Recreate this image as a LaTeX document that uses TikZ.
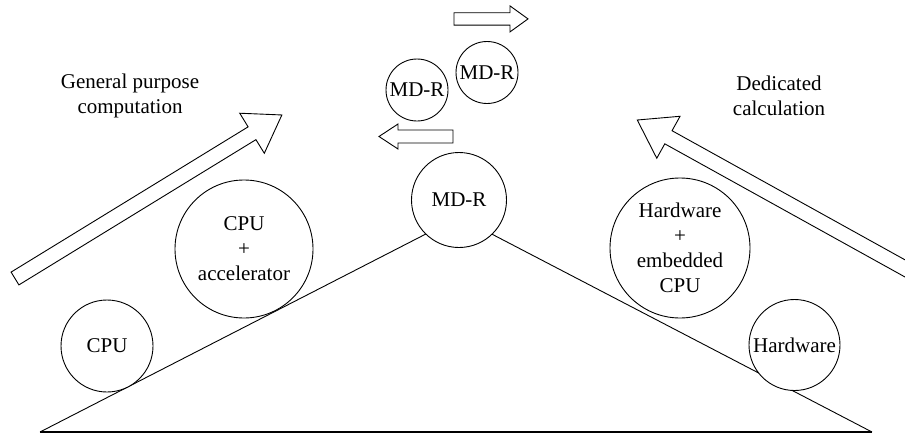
\documentclass[tikz,border=0pt]{standalone}
\usepackage{fontspec}
\setmainfont{Liberation Serif}
\tikzset{
  ink/.style={draw=black, line width=0.9pt},
  ball/.style={ink, circle, fill=white, inner sep=0pt, align=center,
    font=\fontsize{21}{25}\selectfont},
  caption/.style={align=center, font=\fontsize{21}{25}\selectfont},
  % hollow block arrow: length / shaft width / head width / head length,
  % drawn from the middle of its tail along the local x axis
  pics/hollow arrow/.style args={#1/#2/#3/#4}{code={
    \draw[ink, line join=miter]
      (0,-#2/2) -- ({#1-#4},-#2/2) -- ({#1-#4},-#3/2) -- (#1,0)
      -- ({#1-#4},#3/2) -- ({#1-#4},#2/2) -- (0,#2/2) -- cycle;}}
}
\begin{document}
\begin{tikzpicture}[x=1pt,y=-1pt]
  \useasboundingbox (0,0) rectangle (905,434);
  \clip (0,0) rectangle (905,434);

  % the slope
  \coordinate (lb) at (40,432);
  \coordinate (rb) at (872,432);
  \coordinate (apex) at (459,217);
  \draw[ink] (lb) -- (apex) -- (rb);
  \draw[ink, line width=1.4pt] (lb) -- (rb);

  % balls on the slope
  \node[ball, minimum size=95pt] (mdr) at (459,200) {MD-R};
  \node[ball, minimum size=92pt] (cpu) at (107,346) {CPU};
  \node[ball, minimum size=138pt] (acc) at (244,249) {CPU\\+\\accelerator};
  \node[ball, minimum size=140pt] (hwe) at (680,248) {Hardware\\+\\embedded\\CPU};
  \node[ball, minimum size=91pt] (hw) at (794.5,345) {Hardware};

  % balls above the top
  \node[ball, minimum size=62pt] (mdrl) at (417,90) {MD-R};
  \node[ball, minimum size=62pt] (mdrr) at (487,72.5) {MD-R};

  % small arrows
  \pic at (454,18.9) {hollow arrow=74/12.3/26/18};
  \pic[rotate=180] at (453,136.5) {hollow arrow=74/13/25/19};

  % trend arrows
  \pic[rotate=31.5] at (15,278.5) {hollow arrow=313/15/47/35};
  \pic[rotate=151] at (925.9,280) {hollow arrow=330/15/48/35.6};

  % captions
  \node[caption] (gp) at (130,95.5) {General purpose\\computation};
  \node[caption] (dc) at (779,95.5) {Dedicated\\calculation};
\end{tikzpicture}
\end{document}
